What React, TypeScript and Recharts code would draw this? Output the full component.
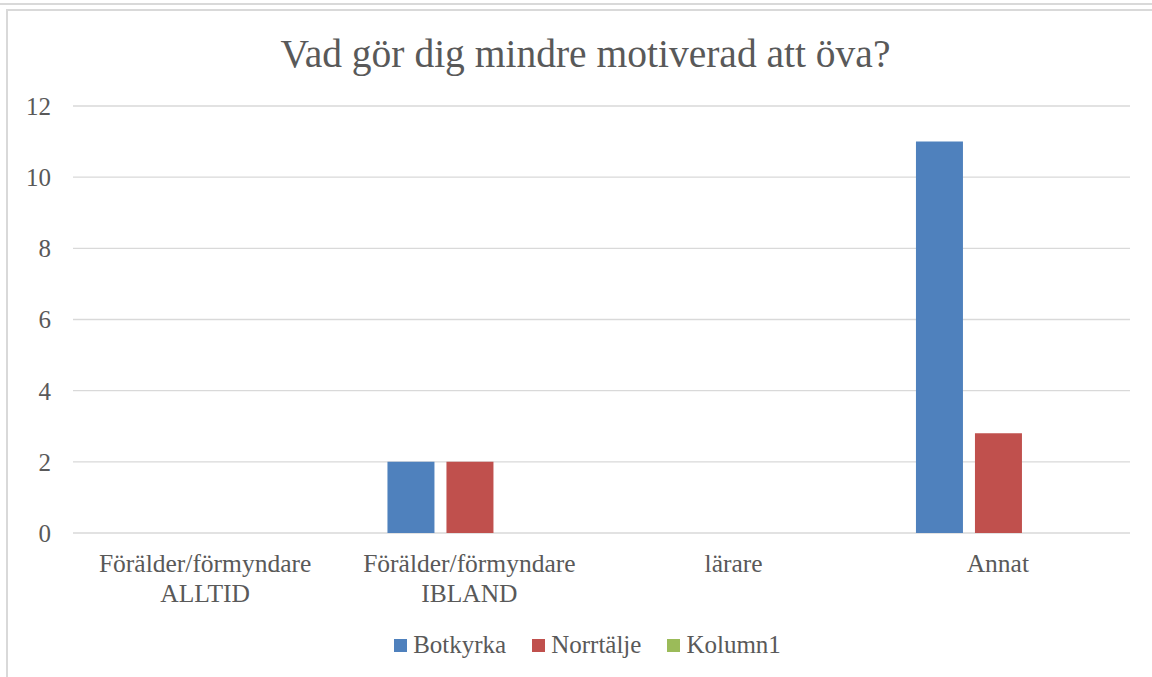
import React from "react";
import { BarChart, Bar, XAxis, YAxis, CartesianGrid, Legend } from "recharts";

const categories = [
  "Förälder/förmyndare ALLTID",
  "Förälder/förmyndare IBLAND",
  "lärare",
  "Annat",
];
const botkyrka = [0, 2, 0, 11];
const norrtalje = [0, 2, 0, 2.8];
const kolumn1 = [0, 0, 0, 0];
const yTicks = [0, 2, 4, 6, 8, 10, 12];

const seriesNames = ["Botkyrka", "Norrtälje", "Kolumn1"];
const seriesColors = ["#4f81bd", "#c0504d", "#9bbb59"];

const data = categories.map((c, i) => ({
  name: c,
  Botkyrka: botkyrka[i],
  Norrtälje: norrtalje[i],
  Kolumn1: kolumn1[i],
}));

const FONT = "'Liberation Serif', 'Times New Roman', serif";
const TXT = "#595959";

const XTick = (props: any) => {
  const { x, y, payload } = props;
  const lines = String(payload.value).split(" ");
  return (
    <g>
      <text x={x} y={y} textAnchor="middle" fill={TXT} fontSize={25.5} fontFamily={FONT}>
        {lines.map((l: string, i: number) => (
          <tspan key={i} x={x} dy={i === 0 ? 38.7 : 30}>
            {l}
          </tspan>
        ))}
      </text>
    </g>
  );
};

const LegendContent = () => (
  <div
    style={{
      display: "flex",
      justifyContent: "center",
      alignItems: "center",
      height: 40,
      paddingLeft: 23,
      fontFamily: FONT,
      fontSize: 25,
      color: TXT,
    }}
  >
    {seriesNames.map((n, i) => (
      <div key={n} style={{ display: "flex", alignItems: "center", marginLeft: i === 0 ? 0 : 26 }}>
        <div style={{ width: 13, height: 13, background: seriesColors[i], marginRight: 6 }} />
        <span style={{ lineHeight: "40px" }}>{n}</span>
      </div>
    ))}
  </div>
);

export default function App() {
  return (
    <div style={{ position: "fixed", left: 0, top: 0, width: 1152, height: 677, background: "#fff", overflow: "hidden" }}>
      <svg width={1152} height={677} style={{ position: "absolute", left: 0, top: 0 }}>
        <text x={585.5} y={67} textAnchor="middle" fill={TXT} fontSize={39.5} fontFamily={FONT}>
          Vad gör dig mindre motiverad att öva?
        </text>
      </svg>
      <div style={{ position: "absolute", left: 0, top: 0 }}>
        <BarChart
          width={1152}
          height={677}
          data={data}
          margin={{ top: 106, right: 22, left: 0, bottom: 12 }}
          barCategoryGap="19%"
          barGap={12}
        >
          <CartesianGrid vertical={false} stroke="#d9d9d9" strokeWidth={1.3} />
          <XAxis
            dataKey="name"
            axisLine={false}
            tickLine={false}
            tickSize={0}
            tickMargin={0}
            height={92}
            interval={0}
            tick={<XTick />}
          />
          <YAxis
            domain={[0, 12]}
            ticks={yTicks}
            width={73}
            axisLine={false}
            tickLine={false}
            tickSize={0}
            tickMargin={22}
            tick={{ fill: TXT, fontSize: 25, fontFamily: FONT }}
          />
          <Legend
            verticalAlign="bottom"
            content={<LegendContent />}
            wrapperStyle={{ left: 0, width: 1152 }}
          />
          {seriesNames.map((n, i) => (
            <Bar key={n} dataKey={n} fill={seriesColors[i]} isAnimationActive={false} />
          ))}
        </BarChart>
      </div>
      <div style={{ position: "absolute", left: 0, top: 3, width: 1152, height: 2, background: "#d9d9d9", zIndex: 5 }} />
      <div style={{ position: "absolute", left: 6, top: 9, width: 1160, height: 2, background: "#d9d9d9", zIndex: 5 }} />
      <div style={{ position: "absolute", left: 6, top: 9, width: 2, height: 700, background: "#d9d9d9", zIndex: 5 }} />
    </div>
  );
}
